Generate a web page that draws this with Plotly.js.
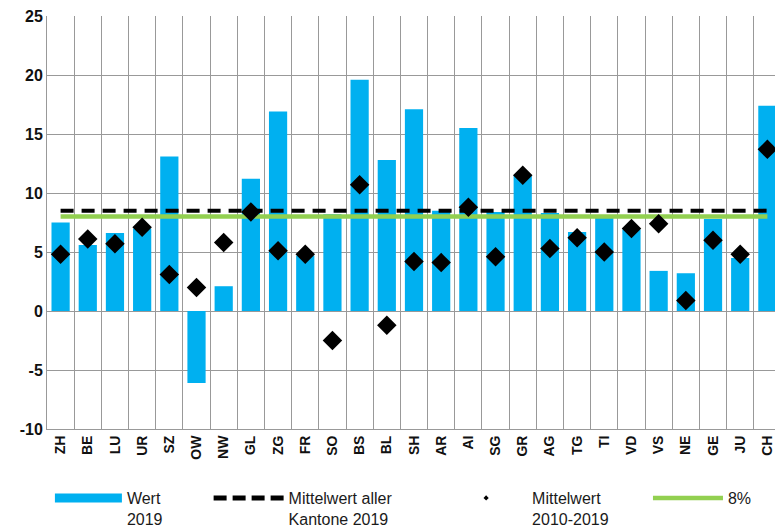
<!DOCTYPE html>
<html><head><meta charset="utf-8">
<script src="https://cdn.plot.ly/plotly-3.0.1.min.js"></script>
<style>html,body{margin:0;padding:0;background:#fff}#chart{width:775px;height:527px}</style>
</head><body><div id="chart"></div>
<script>
const cantons = ['ZH','BE','LU','UR','SZ','OW','NW','GL','ZG','FR','SO','BS','BL','SH','AR','AI','SG','GR','AG','TG','TI','VD','VS','NE','GE','JU','CH'];
const wert2019 = [7.5,5.6,6.6,7.0,13.1,-6.1,2.1,11.2,16.9,4.7,8.2,19.6,12.8,17.1,8.5,15.5,8.4,11.5,8.3,6.7,7.9,6.9,3.4,3.2,7.8,4.5,17.4];
const mittel2010_2019 = [4.8,6.1,5.7,7.1,3.1,2.0,5.8,8.4,5.1,4.8,-2.5,10.7,-1.2,4.2,4.1,8.8,4.6,11.5,5.3,6.2,5.0,7.0,7.4,0.9,6.0,4.8,13.7];
const mittelKantone2019 = 8.5;
const zielwert = 8;
const yTicks = [-10,-5,0,5,10,15,20,25];

const legendFont = {family:'Liberation Sans, Arial, sans-serif', size:16, color:'#1a1a1a'};
const blue = '#00b0f0', green = '#92d050', grid = '#999999';

const traces = [
  {type:'bar', x:cantons, y:wert2019, marker:{color:blue}, showlegend:false, hoverinfo:'skip'},
  {type:'scatter', mode:'lines', x:cantons, y:cantons.map(()=>zielwert), line:{color:green, width:4.5},
   name:'8%', legend:'legend4'},
  {type:'scatter', mode:'lines', x:cantons, y:cantons.map(()=>mittelKantone2019), line:{color:'#000', width:4, dash:'13px,8px'},
   showlegend:false},
  {type:'scatter', mode:'markers', x:cantons, y:mittel2010_2019, marker:{symbol:'diamond', size:15, color:'#000', line:{width:0}},
   showlegend:false},
  {type:'scatter', mode:'lines', x:[null], y:[null], line:{color:blue, width:9}, name:'Wert<br>2019', legend:'legend'},
  {type:'scatter', mode:'lines', x:[null], y:[null], line:{color:'#000', width:5, dash:'13px,6px'}, name:'Mittelwert aller<br>Kantone 2019', legend:'legend2'},
  {type:'scatter', mode:'markers', x:[null], y:[null], marker:{symbol:'diamond', size:4, color:'#000'}, name:'Mittelwert<br>2010-2019', legend:'legend3'}
];

function leg(x, iw){
  return {x:x, y:-0.126, xanchor:'left', yanchor:'top', orientation:'v', valign:'top', itemwidth:iw,
          font:legendFont, bgcolor:'rgba(0,0,0,0)', borderwidth:0, tracegroupgap:0};
}

const layout = {
  width:775, height:527,
  margin:{l:47, r:0, t:16, b:98, pad:0, autoexpand:false},
  paper_bgcolor:'#fff', plot_bgcolor:'#fff',
  bargap:0.33,
  showlegend:true,
  xaxis:{type:'category', range:[-0.5, 26.28], tickson:'boundaries', showgrid:true, gridcolor:grid, gridwidth:1,
         tickangle:-90, ticks:'', showline:true, linecolor:grid, linewidth:1, fixedrange:true,
         tickfont:{family:'Liberation Sans, Arial, sans-serif', size:14, color:'#111', weight:'bold'}},
  yaxis:{range:[-10,25], tickvals:yTicks, ticktext:yTicks.map(String), showgrid:true, gridcolor:grid, gridwidth:1,
         zeroline:false, ticks:'', showline:true, linecolor:grid, linewidth:1, fixedrange:true,
         tickfont:{family:'Liberation Sans, Arial, sans-serif', size:16, color:'#111', weight:'bold'}},
  legend:leg(0.004, 67),
  legend2:leg(0.222, 70),
  legend3:leg(0.54, 82),
  legend4:leg(0.8255, 70)
};

Plotly.newPlot('chart', traces, layout, {displayModeBar:false, staticPlot:true});
</script></body></html>
